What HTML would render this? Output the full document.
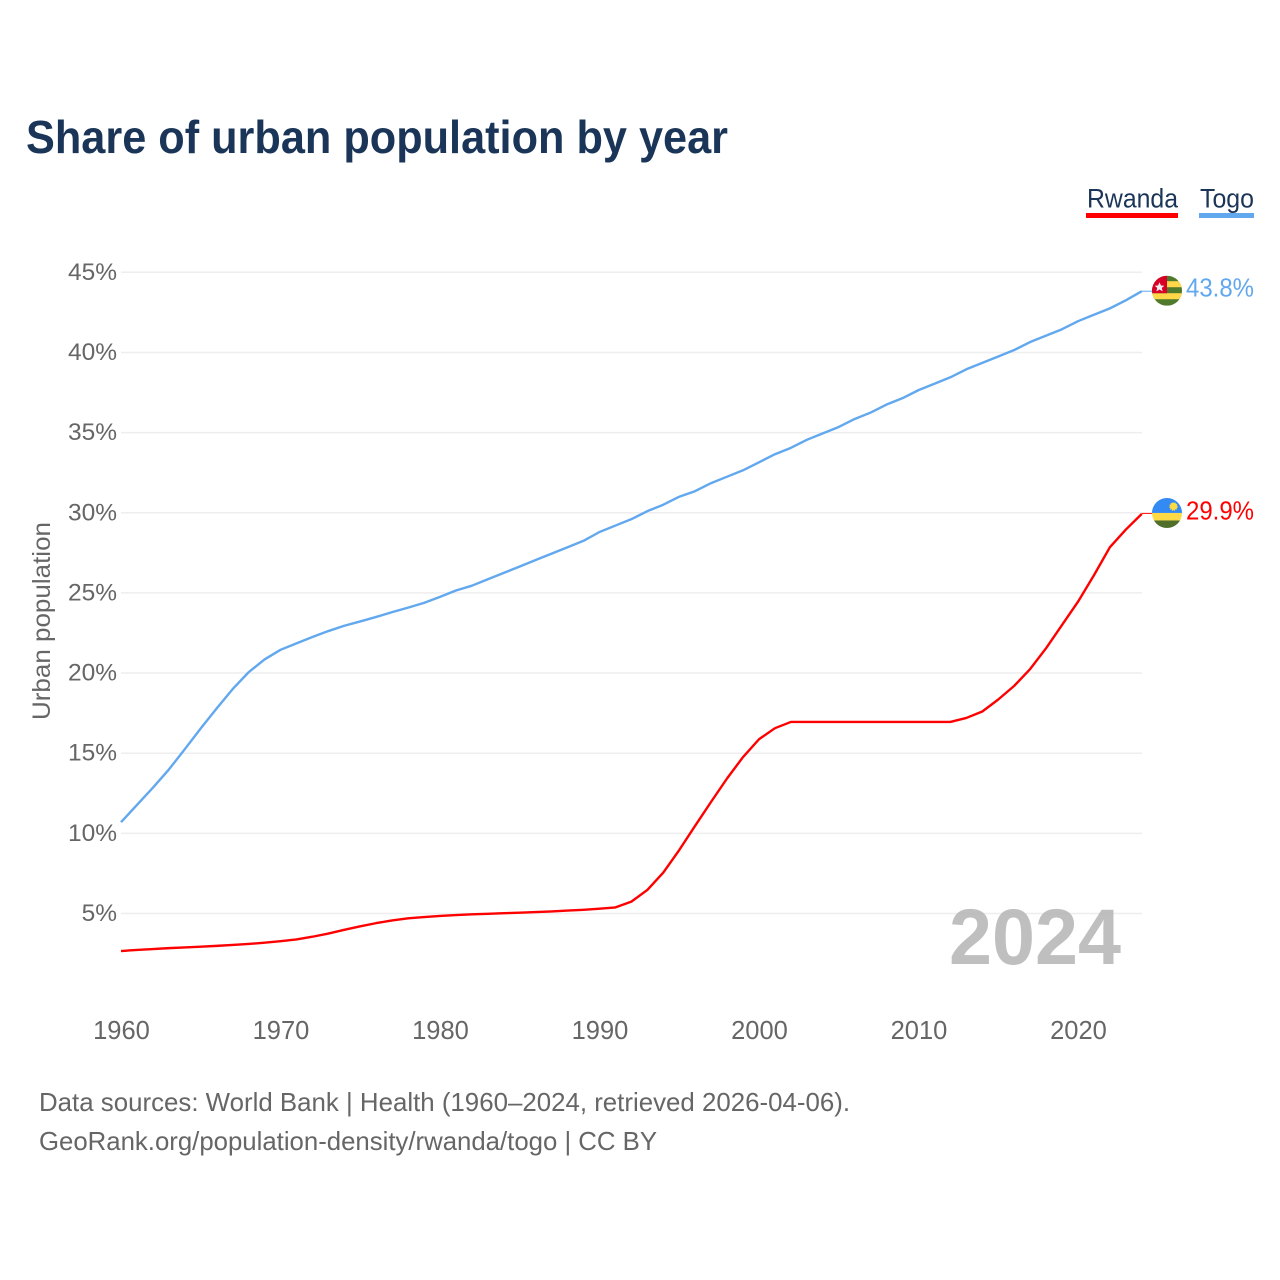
<!DOCTYPE html>
<html lang="en">
<head>
<meta charset="utf-8">
<title>Share of urban population by year</title>
<style>
html,body{margin:0;padding:0;background:#fff;width:1280px;height:1280px;overflow:hidden}
svg{display:block}
text{font-family:"Liberation Sans",sans-serif}
</style>
</head>
<body>
<svg id="chart" width="1280" height="1280" viewBox="0 0 1280 1280" xmlns="http://www.w3.org/2000/svg">
  <defs>
    <clipPath id="togo-clip"><circle cx="0" cy="0" r="15"/></clipPath>
    <clipPath id="rwanda-clip"><circle cx="0" cy="0" r="15"/></clipPath>
  </defs>
  <rect x="0" y="0" width="1280" height="1280" fill="#fff"/>
  <text x="26" y="153" font-size="46" font-weight="700" fill="#1a3557" textLength="702" lengthAdjust="spacingAndGlyphs">Share of urban population by year</text>

  <g>
    <g>
      <text x="1087" y="207.5" font-size="27" fill="#1a3557" textLength="91" lengthAdjust="spacingAndGlyphs">Rwanda</text>
      <rect x="1086" y="213" width="92" height="5" fill="#ff0000"/>
    </g>
    <g>
      <text x="1200" y="207.5" font-size="27" fill="#1a3557" textLength="54" lengthAdjust="spacingAndGlyphs">Togo</text>
      <rect x="1199" y="213" width="55" height="5" fill="#62a8ee"/>
    </g>
  </g>

  <g id="grid"></g>
  <g id="y-ticks"></g>
  <g id="x-ticks"></g>
  <text transform="translate(50,621) rotate(-90)" text-anchor="middle" font-size="25" fill="#666" textLength="198" lengthAdjust="spacingAndGlyphs">Urban population</text>

  <text x="949" y="964" font-size="79" font-weight="700" fill="#b4b4b4" fill-opacity="0.85" textLength="172" lengthAdjust="spacingAndGlyphs">2024</text>

  <g id="series"></g>
  <g id="end-labels"></g>

  <g>
    <text x="39" y="1111" font-size="26" fill="#666" textLength="811" lengthAdjust="spacingAndGlyphs">Data sources: World Bank | Health (1960–2024, retrieved 2026-04-06).</text>
    <text x="39" y="1150" font-size="26" fill="#666" textLength="618" lengthAdjust="spacingAndGlyphs">GeoRank.org/population-density/rwanda/togo | CC BY</text>
  </g>
</svg>

<script>
const startYear = 1960;
const yTickValues = [5, 10, 15, 20, 25, 30, 35, 40, 45];
const xTickValues = [1960, 1970, 1980, 1990, 2000, 2010, 2020];
const togoValues = [
  10.7, 11.77, 12.85, 13.98, 15.25, 16.55, 17.8, 19.0, 20.05, 20.85,
  21.45, 21.85, 22.25, 22.62, 22.95, 23.22, 23.5, 23.8, 24.08, 24.38,
  24.75, 25.15, 25.45, 25.85, 26.25, 26.65, 27.05, 27.45, 27.85, 28.25,
  28.8, 29.2, 29.6, 30.1, 30.5, 31.0, 31.35, 31.85, 32.25, 32.65,
  33.15, 33.65, 34.05, 34.55, 34.95, 35.35, 35.85, 36.25, 36.75, 37.15,
  37.65, 38.05, 38.45, 38.95, 39.35, 39.75, 40.15, 40.65, 41.05, 41.45,
  41.95, 42.35, 42.75, 43.25, 43.82
];
const rwandaValues = [
  2.66, 2.73, 2.78, 2.84, 2.88, 2.93, 2.98, 3.04, 3.1, 3.18,
  3.27, 3.38, 3.55, 3.75, 3.98, 4.2, 4.4, 4.57, 4.7, 4.78,
  4.85, 4.9, 4.95, 4.98, 5.02, 5.05, 5.09, 5.13, 5.18, 5.23,
  5.3, 5.38, 5.74, 6.47, 7.55, 8.96, 10.48, 11.97, 13.43, 14.76,
  15.87, 16.56, 16.95, 16.95, 16.95, 16.95, 16.95, 16.95, 16.95, 16.95,
  16.95, 16.95, 16.95, 17.2, 17.6, 18.35, 19.2, 20.25, 21.55, 23.0,
  24.45, 26.1, 27.85, 28.95, 29.93
];

const SVG_NS = 'http://www.w3.org/2000/svg';
function xScale(year) { return 121 + (year - 1960) * 15.95; }
function yScale(v) { return 993.65 - v * 16.03; }
function make(tag, parent, attrs) {
  const el = document.createElementNS(SVG_NS, tag);
  for (const k in attrs) el.setAttribute(k, attrs[k]);
  parent.appendChild(el);
  return el;
}

const grid = document.getElementById('grid');
const yTicks = document.getElementById('y-ticks');
yTickValues.forEach(function (v) {
  const line = make('line', grid, { x1: 121, x2: 1142, y1: yScale(v), y2: yScale(v), stroke: '#eeeeee', 'stroke-width': 1.5 });
  
  
  const label = make('text', yTicks, { x: 117, y: yScale(v) + 7.5, 'text-anchor': 'end', 'font-size': 24.5, fill: '#666' });
  
  
  label.textContent = v + '%';
});

const xTicks = document.getElementById('x-ticks');
xTickValues.forEach(function (year) {
  const label = make('text', xTicks, { x: xScale(year) + 0.5, y: 1039, 'text-anchor': 'middle', 'font-size': 25.5, fill: '#666' });
  
  
  label.textContent = year;
});

const seriesGroup = document.getElementById('series');
function linePath(values) {
  return values.map(function (v, i) {
    return (i ? 'L' : 'M') + xScale(startYear + i).toFixed(2) + ' ' + yScale(v).toFixed(2);
  }).join(' ');
}
const togoLine = make('path', seriesGroup, { d: linePath(togoValues), fill: 'none', stroke: '#62a8ee', 'stroke-width': 2.4, 'stroke-linejoin': 'round' });


const rwandaLine = make('path', seriesGroup, { d: linePath(rwandaValues), fill: 'none', stroke: '#ff0000', 'stroke-width': 2.4, 'stroke-linejoin': 'round' });



const endGroup = document.getElementById('end-labels');
const lastYear = startYear + togoValues.length - 1;
const endX = xScale(lastYear);
const flagX = 1167;

/* Togo end marker */
const togoEnd = togoValues[togoValues.length - 1];
const togoY = yScale(togoEnd);
const togoLeader = make('line', endGroup, { x1: endX, x2: 1152, y1: togoY, y2: togoY, stroke: '#62a8ee', 'stroke-width': 1 });


const togoFlag = make('g', endGroup, { transform: 'translate(' + flagX + ',' + (togoY - 0.5) + ')', 'clip-path': 'url(#togo-clip)' });


make('rect', togoFlag, { x: -15, y: -15, width: 30, height: 30, fill: '#4f7a2b' });
make('rect', togoFlag, { x: -15, y: -9.5, width: 30, height: 6, fill: '#ffd84a' });
make('rect', togoFlag, { x: -15, y: 2.5, width: 30, height: 6, fill: '#ffd84a' });
make('rect', togoFlag, { x: -15, y: -15, width: 15, height: 17.5, fill: '#d80027' });
make('polygon', togoFlag, { points: '-7.5,-8.5 -6,-5.2 -2.7,-5 -5.2,-2.8 -4.4,0.6 -7.5,-1.2 -10.6,0.6 -9.8,-2.8 -12.3,-5 -9,-5.2', fill: '#f0f0f0' });
const togoValueLabel = make('text', endGroup, { x: 1186, y: togoY + 5.5, 'font-size': 26, fill: '#62a8ee', textLength: 68, lengthAdjust: 'spacingAndGlyphs' });


togoValueLabel.textContent = togoEnd.toFixed(1) + '%';

/* Rwanda end marker */
const rwandaEnd = rwandaValues[rwandaValues.length - 1];
const rwandaY = yScale(rwandaEnd);
const rwandaLeader = make('line', endGroup, { x1: endX, x2: 1152, y1: rwandaY - 0.5, y2: rwandaY - 0.5, stroke: '#ff0000', 'stroke-width': 1 });


const rwandaFlag = make('g', endGroup, { transform: 'translate(' + flagX + ',' + (rwandaY - 0.9) + ')', 'clip-path': 'url(#rwanda-clip)' });


make('rect', rwandaFlag, { x: -15, y: -15, width: 30, height: 15, fill: '#338af3' });
make('rect', rwandaFlag, { x: -15, y: 0, width: 30, height: 7.5, fill: '#ffda44' });
make('rect', rwandaFlag, { x: -15, y: 7.5, width: 30, height: 7.5, fill: '#4f6f2b' });
make('circle', rwandaFlag, { cx: 6.5, cy: -6.5, r: 3.6, fill: '#ffda44', stroke: '#ffda44', 'stroke-width': 1.4, 'stroke-dasharray': '1 1' });
const rwandaValueLabel = make('text', endGroup, { x: 1186, y: rwandaY + 5.5, 'font-size': 26, fill: '#ff0000', textLength: 68, lengthAdjust: 'spacingAndGlyphs' });


rwandaValueLabel.textContent = rwandaEnd.toFixed(1) + '%';
</script>
</body>
</html>
